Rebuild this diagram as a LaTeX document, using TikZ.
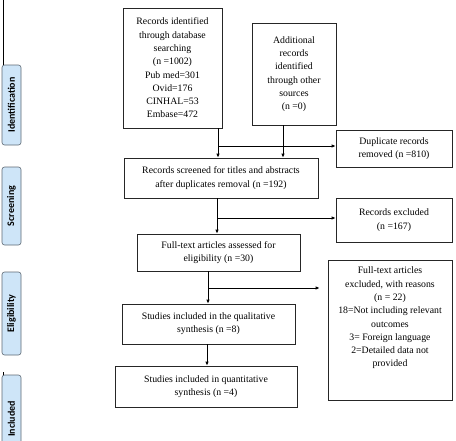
\documentclass[tikz,border=0pt]{standalone}
\usepackage{fontspec}
\setmainfont{Liberation Serif}
\newfontfamily\stagefont{Carlito}
\usetikzlibrary{arrows.meta}
\definecolor{stagefill}{RGB}{206,229,248}
\definecolor{stageline}{RGB}{95,105,115}
\begin{document}
\begin{tikzpicture}[x=1pt, y=-1pt,
    box/.style={draw=black!85, line width=0.8pt, inner sep=2pt, align=center,
      font=\fontsize{9.8}{13.3}\selectfont},
    stage/.style={draw=stageline, fill=stagefill, rounded corners=2.5pt, line width=0.6pt,
      rotate=90, minimum height=19pt, inner sep=0pt, font=\stagefont\bfseries\fontsize{10}{11}\selectfont},
    arr/.style={line width=0.8pt, -{Latex[length=4pt, width=3.6pt]}}]
        \useasboundingbox (0,0) rectangle (456,440);
        % phase labels on the left
        \draw[line width=0.8pt] (3,0) -- (3,65);
        \draw[line width=0.8pt] (3,372) -- (3,376);
        \node[stage, minimum width=80pt] (ident) at (11.5,105) {Identification};
        \node[stage, minimum width=78pt] (screen) at (11.5,206) {Screening};
        \node[stage, minimum width=83pt] (elig) at (11.5,313.5) {Eligibility};
        \node[stage, minimum width=88pt] (incl) at (11.5,419) {Included};
        % flow boxes
        \node[box, minimum width=99pt, minimum height=120pt] (dbrec) at (172.5,68)
            {Records identified\\through database\\searching\\(n =1002)\\Pub med=301\\Ovid=176\\CINHAL=53\\Embase=472};
        \node[box, minimum width=84pt, minimum height=102pt] (otherrec) at (294,74)
            {Additional\\records\\identified\\through other\\sources\\(n =0)};
        \node[box, minimum width=116pt, minimum height=37pt] (dupl) at (394,148.5)
            {Duplicate records\\removed (n =810)};
        \node[box, minimum width=194pt, minimum height=40pt] (screened) at (221,178)
            {Records screened for titles and abstracts\\after duplicates removal (n =192)};
        \node[box, minimum width=116pt, minimum height=44pt] (recexcl) at (394,220)
            {Records excluded\\(n =167)};
        \node[box, minimum width=163pt, minimum height=37pt] (fulltext) at (218.5,252.5)
            {Full-text articles assessed for\\eligibility (n =30)};
        \node[box, minimum width=124pt, minimum height=140pt] (ftexcl) at (390,330) {};
        \node[box, draw=none, anchor=north] (ftreason) at ([yshift=-5pt]ftexcl.north)
            {Full-text articles\\excluded, with reasons\\(n = 22)\\18=Not including relevant\\outcomes\\3= Foreign language\\2=Detailed data not\\provided};
        \node[box, minimum width=173pt, minimum height=40pt] (qual) at (208.5,324)
            {Studies included in the qualitative\\synthesis (n =8)};
        \node[box, minimum width=182pt, minimum height=41pt] (quant) at (206,386.5)
            {Studies included in quantitative\\synthesis (n =4)};
        % connectors
        \coordinate (ja) at (218,146);
        \coordinate (jb) at (283,146);
        \coordinate (js) at (217,218);
        \coordinate (jf) at (208,288);
        \draw[arr] (dbrec.south -| ja) -- (screened.north -| ja);
        \draw[arr] (ja) -- (ja -| dupl.west);
        \draw[arr] (otherrec.south -| jb) -- (screened.north -| jb);
        \draw[arr] (screened.south -| js) -- (fulltext.north -| js);
        \draw[arr] (js) -- (js -| recexcl.west);
        \draw[arr] (fulltext.south -| jf) -- (qual.north -| jf);
        \draw[arr, shorten >=8pt] (jf) -- (jf -| ftexcl.west);
        \draw[arr] ([xshift=-1pt]qual.south -| jf) -- ([xshift=-1pt]quant.north -| jf);
\end{tikzpicture}
\end{document}
